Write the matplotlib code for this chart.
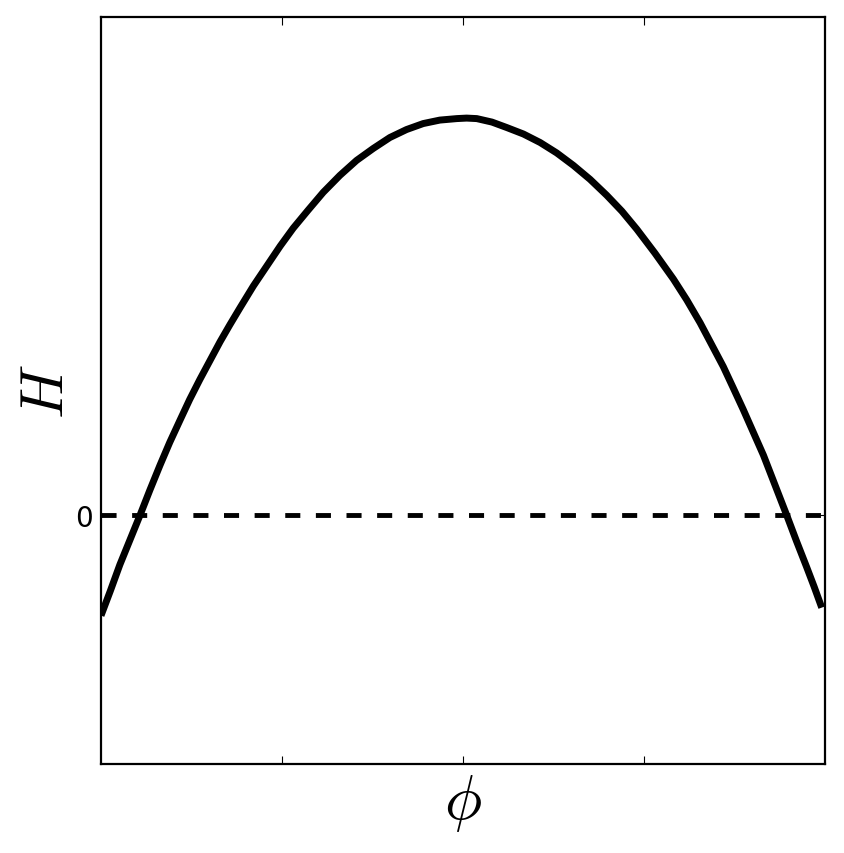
import numpy as np
import matplotlib
matplotlib.use("Agg")
import matplotlib.pyplot as plt

plt.rcParams['mathtext.fontset'] = 'cm'

# values
phi = [-1.0, -0.974, -0.948, -0.920, -0.892, -0.865, -0.837, -0.810,
       -0.782, -0.755, -0.727, -0.699, -0.671, -0.644, -0.616, -0.579,
       -0.542, -0.505, -0.469, -0.428, -0.386, -0.340, -0.294, -0.248,
       -0.202, -0.156, -0.110, -0.064, -0.017, 0.010, 0.038, 0.080,
       0.121, 0.167, 0.213, 0.259, 0.305, 0.351, 0.397, 0.439,
       0.480, 0.530, 0.581, 0.618, 0.655, 0.687, 0.719, 0.746,
       0.774, 0.802, 0.830, 0.862, 0.894, 0.921, 0.949, 0.970, 0.991]
H = [-1.01, -0.76, -0.50, -0.25, 0.0, 0.25, 0.50, 0.73,
     0.95, 1.16, 1.36, 1.55, 1.74, 1.91, 2.08, 2.30,
     2.50, 2.70, 2.88, 3.06, 3.24, 3.41, 3.56, 3.68,
     3.79, 3.87, 3.93, 3.965, 3.98, 3.985, 3.98, 3.945,
     3.89, 3.825, 3.74, 3.635, 3.51, 3.37, 3.21, 3.05,
     2.87, 2.63, 2.37, 2.16, 1.93, 1.71, 1.49, 1.28,
     1.06, 0.83, 0.60, 0.30, 0.0, -0.26, -0.52, -0.72, -0.93]
xticks = [-0.5, 0.0, 0.5]
yticks = [0]
ytick_labels = ['0']

fig = plt.figure(figsize=(8.44, 8.54), dpi=100)
ax = fig.add_axes([101/844, 1 - 765/854, 724/844, 747/854])

ax.plot(phi, H, color='k', lw=5, solid_capstyle='butt', solid_joinstyle='round')
ax.axhline(0, color='k', lw=3.5, dashes=(3.1, 3.2))

ax.set_xlim(-1, 1)
ax.set_ylim(-2.5, 5)
ax.set_xticks(xticks)
ax.set_xticklabels([])
ax.set_yticks(yticks)
ax.set_yticklabels(ytick_labels, fontsize=20)
ax.tick_params(direction='in', length=6, width=0.8, top=True, right=True, pad=5.5)
for s in ax.spines.values():
    s.set_linewidth(1.6)

ax.set_xlabel(r'$\phi$', fontsize=45, labelpad=0)
ax.set_ylabel(r'$H$', fontsize=43, labelpad=0)

fig.savefig('out.png', dpi=100)
